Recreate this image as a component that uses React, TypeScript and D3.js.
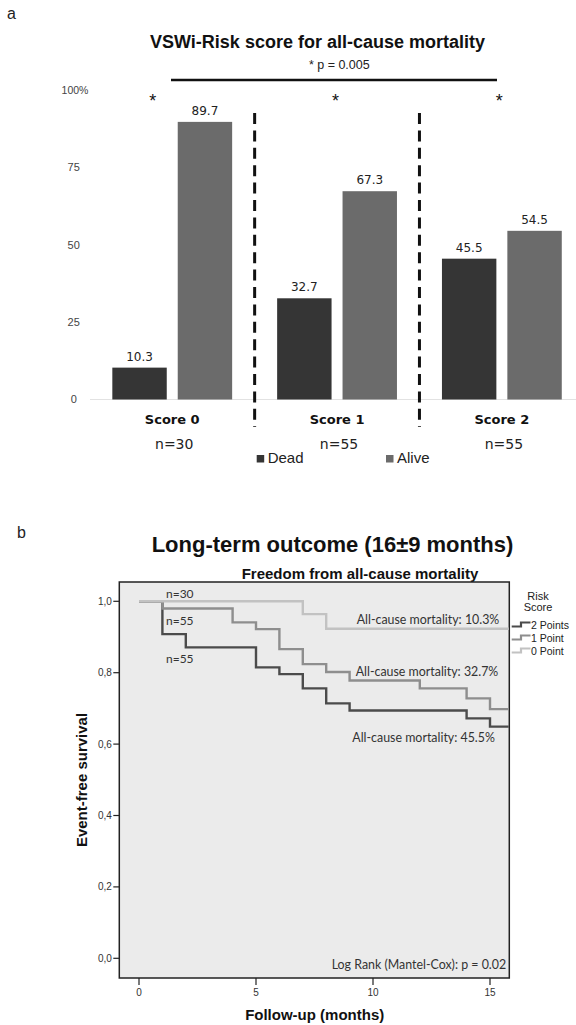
import React from "react";
import * as d3 from "d3";

// ---------- Panel a data ----------
const groups = ["Score 0", "Score 1", "Score 2"];
const groupN = ["n=30", "n=55", "n=55"];
const seriesNames = ["Dead", "Alive"];
const deadPct = [10.3, 32.7, 45.5];
const alivePct = [89.7, 67.3, 54.5];
const barTicks = [0, 25, 50, 75];
const pText = "* p = 0.005";

// ---------- Panel b data ----------
const kmTicksX = [0, 5, 10, 15];
const kmTicksY = [0, 0.2, 0.4, 0.6, 0.8, 1.0];
const legendLabels = ["2 Points", "1 Point", "0 Point"];
const time2 = [0, 1, 2, 5, 6, 7, 8, 9, 14, 15, 15.8];
const surv2 = [1, 0.908, 0.871, 0.815, 0.796, 0.756, 0.714, 0.694, 0.672, 0.649, 0.649];
const time1 = [0, 1, 4, 5, 6, 7, 8, 9, 12, 14, 15, 15.8];
const surv1 = [1, 0.98, 0.941, 0.922, 0.866, 0.824, 0.802, 0.778, 0.756, 0.728, 0.698, 0.698];
const time0 = [0, 7, 8, 15.8];
const surv0 = [1, 0.964, 0.923, 0.923];
const mortalityLabels = ["All-cause mortality: 10.3%", "All-cause mortality: 32.7%", "All-cause mortality: 45.5%"];
const nLabels = ["n=30", "n=55", "n=55"];

const ARIAL = "'Liberation Sans', Arial, sans-serif";
const DEJA = "'DejaVu Sans', Verdana, sans-serif";
const CAL = "Lato, 'Open Sans', sans-serif";

export default function App() {
  // ----- panel a scales -----
  const xg = d3.scaleBand<string>().domain(groups).range([89.8, 584.3]).paddingInner(0.273).paddingOuter(0.1367);
  const xs = d3.scaleBand<string>().domain(seriesNames).range([0, xg.bandwidth()]).paddingInner(0.168).paddingOuter(0);
  const yb = d3.scaleLinear().domain([0, 100]).range([399.5, 90]);
  const barColor = d3.scaleOrdinal<string, string>().domain(seriesNames).range(["#353535", "#6b6b6b"]);
  const values: Record<string, number[]> = { Dead: deadPct, Alive: alivePct };
  const starOffsets = [-19.5, -1.5, -2.5];
  const dividers = [xg(groups[0])! + xg.bandwidth() + (xg.step() - xg.bandwidth()) / 2, xg(groups[1])! + xg.bandwidth() + (xg.step() - xg.bandwidth()) / 2];

  // ----- panel b scales -----
  const xk = d3.scaleLinear().domain([0, 15]).range([139, 490]);
  const yk = d3.scaleLinear().domain([0, 1]).range([958.3, 601.3]);
  const box = { x0: 119.3, x1: 509.3, y0: 582, y1: 978 };
  const line = d3
    .line<[number, number]>()
    .x((d) => xk(d[0]))
    .y((d) => yk(d[1]))
    .curve(d3.curveStepAfter);
  const curves = [
    { t: time2, s: surv2, color: "#4b4b4b" },
    { t: time1, s: surv1, color: "#8e8e8e" },
    { t: time0, s: surv0, color: "#c2c2c2" },
  ];
  const legendColors = ["#4b4b4b", "#8e8e8e", "#c2c2c2"];

  return (
    <svg width={576} height={1025} style={{ position: "absolute", left: 0, top: 0, background: "#fff" }}>
      {/* ================= Panel a ================= */}
      <text x={7} y={19} fontFamily={ARIAL} fontSize={16} fill="#222">a</text>
      <text x={317.5} y={48} textAnchor="middle" fontFamily={ARIAL} fontSize={18} fontWeight="bold" fill="#111">
        VSWi-Risk score for all-cause mortality
      </text>
      <text x={339.3} y={69} textAnchor="middle" fontFamily={ARIAL} fontSize={12.5} fill="#222">{pText}</text>
      <line x1={171} x2={497} y1={80} y2={80} stroke="#111" strokeWidth={2.5} />

      {/* y ticks */}
      {barTicks.map((t) => (
        <text key={t} x={73.7} y={yb(t)} dy="0.35em" textAnchor="middle" fontFamily={ARIAL} fontSize={11} fill="#444">
          {t}
        </text>
      ))}
      <text x={75} y={yb(100)} dy="0.35em" textAnchor="middle" fontFamily={ARIAL} fontSize={10.5} fill="#444">100%</text>

      {/* baseline */}
      <line x1={90} x2={576} y1={yb(0)} y2={yb(0)} stroke="#e2e2e2" strokeWidth={1} />

      {/* bars */}
      {groups.map((g, gi) => (
        <g key={g} transform={`translate(${xg(g)},0)`}>
          {seriesNames.map((s) => {
            const v = values[s][gi];
            return (
              <g key={s}>
                <rect x={xs(s)} y={yb(v)} width={xs.bandwidth()} height={yb(0) - yb(v)} fill={barColor(s)} />
                <text x={xs(s)! + xs.bandwidth() / 2} y={yb(v) - 7} textAnchor="middle" fontFamily={DEJA} fontSize={12} fill="#222">
                  {v.toFixed(1)}
                </text>
              </g>
            );
          })}
          <text x={xg.bandwidth() / 2 + starOffsets[gi]} y={107} textAnchor="middle" fontFamily={ARIAL} fontSize={18} fill="#111">*</text>
          <text x={xg.bandwidth() / 2} y={424} textAnchor="middle" fontFamily={DEJA} fontSize={13} fontWeight="bold" fill="#111">
            {g}
          </text>
          <text x={xg.bandwidth() / 2 + 2} y={449} textAnchor="middle" fontFamily={DEJA} fontSize={14} fill="#222">
            {groupN[gi]}
          </text>
        </g>
      ))}

      {/* dashed dividers */}
      {dividers.map((x, i) => (
        <line key={i} x1={x} x2={x} y1={113} y2={427} stroke="#111" strokeWidth={3} strokeDasharray="11 6.4" />
      ))}

      {/* legend */}
      {seriesNames.map((s, i) => {
        const lx = [256.7, 386][i];
        return (
          <g key={s}>
            <rect x={lx} y={455} width={7.5} height={7.5} fill={barColor(s)} />
            <text x={lx + 11} y={463} fontFamily={ARIAL} fontSize={15} fill="#222">{s}</text>
          </g>
        );
      })}

      {/* ================= Panel b ================= */}
      <text x={17} y={538} fontFamily={ARIAL} fontSize={16} fill="#222">b</text>
      <text x={332.5} y={551.7} textAnchor="middle" fontFamily={ARIAL} fontSize={22} fontWeight="bold" fill="#111">
        Long-term outcome (16±9 months)
      </text>
      <text x={360} y={579} textAnchor="middle" fontFamily={ARIAL} fontSize={15} fontWeight="bold" fill="#111">
        Freedom from all-cause mortality
      </text>

      <rect x={box.x0} y={box.y0} width={box.x1 - box.x0} height={box.y1 - box.y0} fill="#ebebeb" stroke="#222" strokeWidth={1.5} />

      {/* y axis ticks */}
      {kmTicksY.map((t) => (
        <g key={t}>
          <line x1={box.x0 - 6} x2={box.x0} y1={yk(t)} y2={yk(t)} stroke="#222" strokeWidth={1.2} />
          <text x={box.x0 - 7.5} y={yk(t)} dy="0.35em" textAnchor="end" fontFamily={ARIAL} fontSize={10} fill="#333">
            {t.toFixed(1).replace(".", ",")}
          </text>
        </g>
      ))}
      {/* x axis ticks */}
      {kmTicksX.map((t) => (
        <g key={t}>
          <line x1={xk(t)} x2={xk(t)} y1={box.y1} y2={box.y1 + 7} stroke="#222" strokeWidth={1.2} />
          <text x={xk(t)} y={996} textAnchor="middle" fontFamily={ARIAL} fontSize={10} fill="#333">{t}</text>
        </g>
      ))}

      {/* curves */}
      {curves.map((c, i) => (
        <path
          key={i}
          d={line(c.t.map((t, j) => [t, c.s[j]] as [number, number]))!}
          fill="none"
          stroke={c.color}
          strokeWidth={2.4}
        />
      ))}

      {/* annotations */}
      <text x={166} y={598} fontFamily={CAL} fontSize={12} fill="#333">{nLabels[0]}</text>
      <text x={166} y={625} fontFamily={CAL} fontSize={12} fill="#333">{nLabels[1]}</text>
      <text x={166} y={663} fontFamily={CAL} fontSize={12} fill="#333">{nLabels[2]}</text>
      <text x={356.7} y={624} fontFamily={CAL} fontSize={12.4} fill="#333">{mortalityLabels[0]}</text>
      <text x={355.7} y={676} fontFamily={CAL} fontSize={12.4} fill="#333">{mortalityLabels[1]}</text>
      <text x={352.3} y={742} fontFamily={CAL} fontSize={12.4} fill="#333">{mortalityLabels[2]}</text>
      <text x={331.7} y={969} fontFamily={CAL} fontSize={12.4} fill="#333">Log Rank (Mantel-Cox): p = 0.02</text>

      {/* legend */}
      <text x={538} y={600} textAnchor="middle" fontFamily={ARIAL} fontSize={11} fill="#222">Risk</text>
      <text x={538} y={611} textAnchor="middle" fontFamily={ARIAL} fontSize={11} fill="#222">Score</text>
      {legendLabels.map((l, i) => {
        const cy = 625 + i * 13;
        return (
          <g key={l}>
            <path
              d={`M511.7,${cy + 1.5} H521 V${cy - 2.5} H530.5`}
              fill="none"
              stroke={legendColors[i]}
              strokeWidth={2.2}
            />
            <text x={531} y={cy + 3.5} fontFamily={ARIAL} fontSize={10.5} fill="#222">{l}</text>
          </g>
        );
      })}

      {/* axis titles */}
      <text transform="translate(87,780) rotate(-90)" textAnchor="middle" fontFamily={ARIAL} fontSize={15} fontWeight="bold" fill="#111">
        Event-free survival
      </text>
      <text x={314.7} y={1020} textAnchor="middle" fontFamily={ARIAL} fontSize={15} fontWeight="bold" fill="#111">
        Follow-up (months)
      </text>
    </svg>
  );
}
